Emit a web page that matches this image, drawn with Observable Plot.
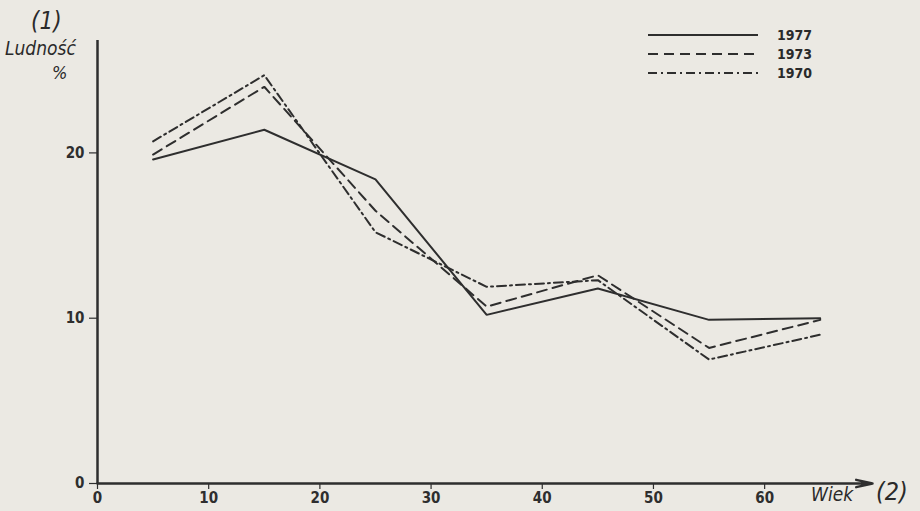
<!DOCTYPE html>
<html>
<head>
<meta charset="utf-8">
<script src="https://cdn.jsdelivr.net/npm/d3@7"></script>
<script src="https://cdn.jsdelivr.net/npm/@observablehq/plot@0.6"></script>
<style>
  html, body { margin: 0; padding: 0; background: #ebe9e3; }
  #wrap { position: relative; width: 920px; height: 511px; background: #ebe9e3; overflow: hidden; }
  #wrap svg { position: absolute; left: 0; top: 0; background: transparent; }
  .lbl { position: absolute; color: #2a2a2a; font-family: "DejaVu Sans Condensed", "DejaVu Sans", sans-serif; font-style: oblique; white-space: nowrap; line-height: 1; }
  #legend { position: absolute; left: 640px; top: 25px; }
  #legend .row { display: flex; align-items: center; height: 19px; }
  #legend svg { position: static; }
  #legend span { font-family: "DejaVu Sans Condensed", "DejaVu Sans", sans-serif; font-weight: bold; font-size: 14px; color: #2a2a2a; margin-left: 19px; }
</style>
</head>
<body>
<div id="wrap"></div>
<script>
const ages = [5, 15, 25, 35, 45, 55, 65];
const v1977 = [19.6, 21.4, 18.4, 10.2, 11.8, 9.9, 10.0];
const v1973 = [19.9, 24.0, 16.5, 10.7, 12.6, 8.2, 9.9];
const v1970 = [20.7, 24.7, 15.2, 11.9, 12.3, 7.5, 9.0];
const seriesNames = ["1977", "1973", "1970"];
const dashes = ["none", "10,6", "9,4,2,4"];
const xTicks = [0, 10, 20, 30, 40, 50, 60];
const yTicks = [0, 10, 20];
const xMax = 69.7;
const yMax = 26.8;

const values = [v1977, v1973, v1970];
const ink = "#2e2e2e";

const lineMarks = values.map((vals, i) =>
  Plot.line(ages.map((a, j) => ({age: a, pct: vals[j]})), {
    x: "age", y: "pct", stroke: ink, strokeWidth: 2,
    strokeDasharray: dashes[i], strokeLinejoin: "miter"
  })
);

const chart = Plot.plot({
  width: 920,
  height: 511,
  marginLeft: 97,
  marginRight: 48,
  marginTop: 40,
  marginBottom: 28,
  style: {background: "transparent", color: ink},
  x: {domain: [0, xMax]},
  y: {domain: [0, yMax]},
  marks: [
    Plot.axisX(xTicks, {tickSize: 6, tickPadding: 3, fontSize: 15, fontWeight: "bold",
      fontFamily: "DejaVu Sans Condensed", label: null, stroke: ink, strokeWidth: 1.2}),
    Plot.axisY(yTicks, {tickSize: 8, tickPadding: 5, fontSize: 15, fontWeight: "bold",
      fontFamily: "DejaVu Sans Condensed", label: null, stroke: ink, strokeWidth: 1.2}),
    Plot.arrow([0], {x1: 0, x2: xMax, y1: 0, y2: 0, stroke: ink, strokeWidth: 2.5, headLength: 10, headAngle: 25}),
    Plot.ruleX([0], {y1: 0, y2: yMax, stroke: ink, strokeWidth: 2.5}),
    ...lineMarks
  ]
});
const wrap = document.getElementById("wrap");
wrap.appendChild(chart);

function addLabel(text, left, top, size) {
  const d = document.createElement("div");
  d.className = "lbl";
  d.textContent = text;
  d.style.left = left + "px";
  d.style.top = top + "px";
  d.style.fontSize = size + "px";
  wrap.appendChild(d);
}
addLabel("(1)", 31, 9, 24);
addLabel("Ludność", 5, 39, 19);
addLabel("%", 52, 64, 18);
addLabel("Wiek", 811, 485, 19);
addLabel("(2)", 876, 479, 25);

const legend = document.createElement("div");
legend.id = "legend";
seriesNames.forEach((name, i) => {
  const row = document.createElement("div");
  row.className = "row";
  const s = d3.create("svg").attr("width", 118).attr("height", 6);
  s.append("line").attr("x1", 8).attr("x2", 118).attr("y1", 3).attr("y2", 3)
    .attr("stroke", ink).attr("stroke-width", 2)
    .attr("stroke-dasharray", dashes[i]);
  row.appendChild(s.node());
  const t = document.createElement("span");
  t.textContent = name;
  row.appendChild(t);
  legend.appendChild(row);
});
wrap.appendChild(legend);
</script>
</body>
</html>
